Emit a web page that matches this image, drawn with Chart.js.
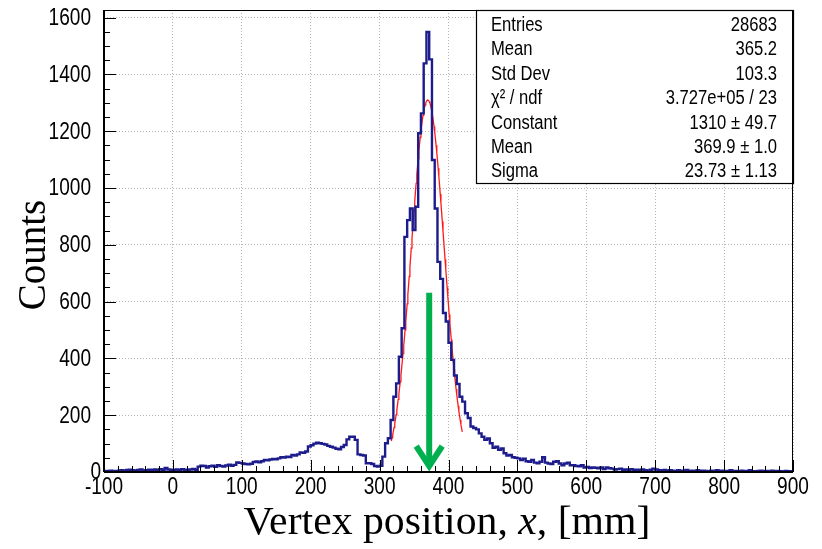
<!DOCTYPE html>
<html>
<head>
<meta charset="utf-8">
<script src="https://cdn.jsdelivr.net/npm/chart.js@4.4.1/dist/chart.umd.min.js"></script>
<style>
  html, body { margin: 0; padding: 0; background: #fff; }
</style>
</head>
<body>
<canvas id="vertexChart" width="822" height="549"></canvas>
<script>
// histogram: 250 bins of 4 mm, from -100 to 900 mm
var binStart = -100;
var binWidth = 4;

// counts per bin, one array per 100 mm
var countsM100 = [3,4,3,5,4,3,5,6,4,7,8,6,5,7,9,5,6,8,6,9,7,10,8,14,9];
var counts0    = [8,6,9,7,10,8,7,9,11,8,19,22,21,16,20,22,18,24,21,19,23,26,22,25,34];
var counts100  = [32,30,28,27,29,35,37,34,38,42,41,44,46,45,48,52,51,54,53,60,58,62,69,68,72];
var counts200  = [90,94,100,103,101,99,97,92,89,86,82,80,88,95,115,124,124,113,62,60,58,31,31,28,21];
var counts300  = [19,22,54,101,119,183,265,312,406,506,828,887,928,852,934,1193,1263,1439,1550,1453,1099,928,740,680,560];
var counts400  = [530,455,395,340,310,265,248,207,190,160,155,150,136,124,113,118,101,85,89,78,83,66,58,60,52];
var counts500  = [50,48,42,47,38,36,42,33,31,36,52,33,30,28,36,38,30,24,30,33,24,24,21,20,24];
var counts600  = [16,18,14,16,15,13,16,10,16,13,12,9,10,12,8,9,7,10,6,8,7,9,6,5,8];
var counts700  = [12,9,6,5,7,4,6,5,3,6,4,5,7,3,5,4,6,3,5,4,2,5,3,6,4];
var counts800  = [5,3,4,6,3,4,2,5,3,4,6,3,2,4,5,3,4,2,5,3,4,3,2,4,3];

// axis ticks
var xTicks = [-100, 0, 100, 200, 300, 400, 500, 600, 700, 800, 900];
var yTicks = [0, 200, 400, 600, 800, 1000, 1200, 1400, 1600];

// gaussian fit parameters (from the stats box) and fit range
var fitConstant = 1310;
var fitMean = 369.9;
var fitSigma = 23.73;
var fitFrom = 317;
var fitTo = 420;

// arrow marking the vertex position
var arrowX = 372;
var arrowTop = 631;
var arrowTip = 7;

var statLabels = ['Entries', 'Mean', 'Std Dev', '\u03c7\u00b2 / ndf', 'Constant', 'Mean', 'Sigma'];
var statValues = ['28683', '365.2', '103.3', '3.727e+05 / 23', '1310 \u00b1 49.7', '369.9 \u00b1 1.0', '23.73 \u00b1 1.13'];

var xMin = -100, xMax = 900, yMin = 0, yMax = 1627;

var counts = [].concat(countsM100, counts0, counts100, counts200, counts300,
                       counts400, counts500, counts600, counts700, counts800);

var histPoints = counts.map(function(c, i) { return { x: binStart + i * binWidth, y: c }; });
histPoints.push({ x: binStart + counts.length * binWidth, y: counts[counts.length - 1] });

// fitted function evaluated over the fit range
var fitPoints = [];
for (var xf = fitFrom; xf <= fitTo; xf += 1) {
  var d = (xf - fitMean) / fitSigma;
  fitPoints.push({ x: xf, y: fitConstant * Math.exp(-0.5 * d * d) });
}

var labelFont = "'Liberation Sans', Arial, sans-serif";
var titleFont = "'Liberation Serif', 'DejaVu Serif', serif";
var narrow = 0.83;

// helvetica-narrow look: squeeze the text horizontally
function narrowText(ctx, text, x, y, align) {
  ctx.save();
  ctx.scale(narrow, 1);
  ctx.textAlign = align;
  ctx.fillText(text, x / narrow, y);
  ctx.restore();
}

function tickList(values) {
  return function(scale) {
    scale.ticks = values.map(function(v) { return { value: v }; });
  };
}

var rootStyle = {
  id: 'rootStyle',
  afterDatasetsDraw: function(chart) {
    var ctx = chart.ctx;
    var a = chart.chartArea;
    var xs = chart.scales.x, ys = chart.scales.y;
    var v, px, py, i;

    ctx.save();

    // green arrow
    px = xs.getPixelForValue(arrowX);
    var pTop = ys.getPixelForValue(arrowTop);
    var pTip = ys.getPixelForValue(arrowTip);
    ctx.strokeStyle = '#00b04f';
    ctx.lineWidth = 6;
    ctx.lineCap = 'butt';
    ctx.beginPath();
    ctx.moveTo(px, pTop);
    ctx.lineTo(px, pTip - 4);
    ctx.stroke();
    ctx.lineJoin = 'miter';
    ctx.beginPath();
    ctx.moveTo(px - 13, pTip - 24);
    ctx.lineTo(px, pTip - 4);
    ctx.lineTo(px + 13, pTip - 24);
    ctx.stroke();

    // stats box
    var bx = 476, by = a.top, bw = a.right - 476, bh = 173;
    ctx.fillStyle = '#fff';
    ctx.fillRect(bx, by, bw, bh);
    ctx.strokeStyle = '#000';
    ctx.lineWidth = 1.2;
    ctx.strokeRect(bx + 0.5, by + 0.5, bw, bh);
    ctx.fillStyle = '#000';
    ctx.font = "20px " + labelFont;
    ctx.textBaseline = 'middle';
    for (i = 0; i < statLabels.length; i++) {
      var ry = by + 15.5 + i * 24.4;
      narrowText(ctx, statLabels[i], bx + 15, ry, 'left');
      narrowText(ctx, statValues[i], bx + bw - 16, ry, 'right');
    }

    // frame
    ctx.strokeStyle = '#000';
    ctx.lineWidth = 1;
    ctx.strokeRect(a.left + 0.5, a.top + 0.5, a.right - a.left - 1, a.bottom - a.top);

    // inner ticks
    ctx.beginPath();
    for (v = xMin; v <= xMax; v += 20) {
      px = Math.round(xs.getPixelForValue(v)) + 0.5;
      var lx = (v % 100 === 0) ? 12 : 6;
      ctx.moveTo(px, a.bottom);
      ctx.lineTo(px, a.bottom - lx);
    }
    for (v = yMin; v <= 1600; v += 50) {
      py = Math.round(ys.getPixelForValue(v)) + 0.5;
      var ly = (v % 200 === 0) ? 12 : 6;
      ctx.moveTo(a.left, py);
      ctx.lineTo(a.left + ly, py);
    }
    ctx.stroke();
    ctx.lineWidth = 2;
    ctx.beginPath();
    ctx.moveTo(a.left, a.bottom);
    ctx.lineTo(a.right, a.bottom);
    ctx.moveTo(a.left, a.top);
    ctx.lineTo(a.left, a.bottom);
    ctx.stroke();

    // tick labels
    ctx.fillStyle = '#000';
    ctx.font = "23px " + labelFont;
    ctx.textBaseline = 'middle';
    yTicks.forEach(function(t) {
      var rx = (t === 0) ? a.left - 3 : a.left - 13;
      narrowText(ctx, String(t), rx, ys.getPixelForValue(t) + 1, 'right');
    });
    ctx.textBaseline = 'top';
    xTicks.forEach(function(t) {
      narrowText(ctx, String(t), xs.getPixelForValue(t), a.bottom + 4, 'center');
    });

    // axis titles
    ctx.font = "39px " + titleFont;
    ctx.textBaseline = 'alphabetic';
    var p1 = 'Vertex position, ', p2 = 'x', p3 = ', [mm]';
    var w1 = ctx.measureText(p1).width, w3 = ctx.measureText(p3).width;
    ctx.font = "italic 39px " + titleFont;
    var w2 = ctx.measureText(p2).width;
    var sx = 1.07;
    ctx.save();
    ctx.translate(447, 534);
    ctx.scale(sx, 1);
    var tx = -(w1 + w2 + w3) / 2;
    ctx.textAlign = 'left';
    ctx.font = "39px " + titleFont;
    ctx.fillText(p1, tx, 0);
    ctx.font = "italic 39px " + titleFont;
    ctx.fillText(p2, tx + w1, 0);
    ctx.font = "39px " + titleFont;
    ctx.fillText(p3, tx + w1 + w2, 0);
    ctx.restore();

    ctx.translate(45, 255);
    ctx.rotate(-Math.PI / 2);
    ctx.textAlign = 'center';
    ctx.font = "39px " + titleFont;
    ctx.fillText('Counts', 0, 0);

    ctx.restore();
  }
};

var ctx = document.getElementById('vertexChart').getContext('2d');
var vertexChart = new Chart(ctx, {
  type: 'line',
  data: {
    datasets: [{
      label: 'Vertex x',
      data: histPoints,
      stepped: 'after',
      borderColor: '#1c1c8c',
      borderWidth: 2.4,
      pointRadius: 0,
      fill: false
    }, {
      label: 'Gaus fit',
      data: fitPoints,
      borderColor: '#ff1a1a',
      borderWidth: 1.3,
      pointRadius: 0,
      tension: 0,
      fill: false
    }]
  },
  options: {
    responsive: false,
    animation: false,
    devicePixelRatio: 1,
    layout: { padding: { left: 0, right: 29, top: 10, bottom: 0 } },
    plugins: {
      legend: { display: false },
      tooltip: { enabled: false }
    },
    scales: {
      x: {
        type: 'linear',
        min: xMin,
        max: xMax,
        afterBuildTicks: tickList(xTicks),
        afterFit: function(scale) { scale.height = 77; },
        border: { display: false, dash: [1, 2] },
        grid: { color: '#b4b4b4', lineWidth: 1, drawTicks: false },
        ticks: { display: false }
      },
      y: {
        type: 'linear',
        min: yMin,
        max: yMax,
        afterBuildTicks: tickList(yTicks),
        afterFit: function(scale) { scale.width = 104; },
        border: { display: false, dash: [1, 2] },
        grid: { color: '#b4b4b4', lineWidth: 1, drawTicks: false },
        ticks: { display: false }
      }
    }
  },
  plugins: [rootStyle]
});
</script>
</body>
</html>
